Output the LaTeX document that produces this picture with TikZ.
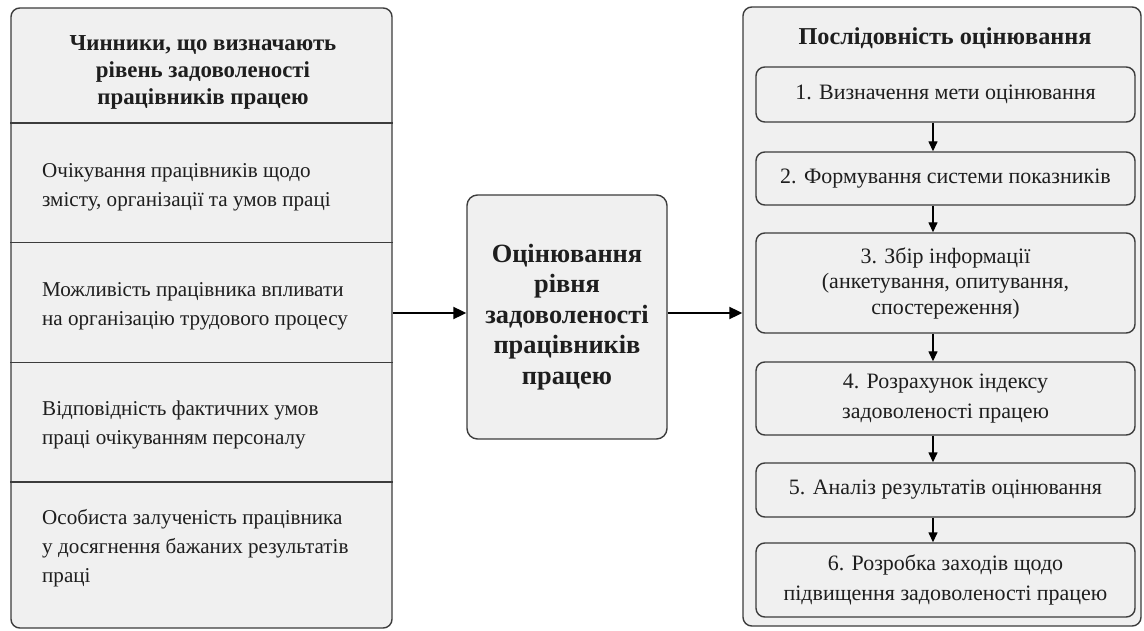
\documentclass[tikz,border=0pt]{standalone}
\usepackage{fontspec}
\setmainfont{Liberation Serif}
\usetikzlibrary{positioning,arrows.meta}
\definecolor{boxfill}{RGB}{240,240,240}
\definecolor{boxline}{RGB}{60,60,60}
\definecolor{txt}{RGB}{30,30,30}
\tikzset{
	panelnode/.style={rectangle, rounded corners=5pt, draw=boxline, fill=boxfill, thick},
	midnode/.style={rectangle, rounded corners=6pt, draw=boxline, fill=boxfill, thick, minimum width=4cm, minimum height=4.88cm, align=center, font=\fontsize{15}{17.4}\selectfont\bfseries},
	stepnode/.style={rectangle, rounded corners=5pt, draw=boxline, fill=boxfill, thick, minimum width=7.58cm, align=center, font=\fontsize{12.5}{17}\selectfont},
	rowtext/.style={anchor=west, align=left, font=\fontsize{12}{16.5}\selectfont},
	headtext/.style={align=center, font=\fontsize{13}{15.6}\selectfont\bfseries}
}
\begin{document}
\begin{tikzpicture}[>={Triangle[length=2.6mm,width=2.4mm]}, text=txt]
		\useasboundingbox (0,0) rectangle (22.88,-12.62);
		% left panel
		\node[panelnode, minimum width=7.62cm, minimum height=12.40cm] at (4.03,-6.36) (left) {};
		\node[headtext] at (4.06,-1.45) (lhead) {Чинники, що визначають\\рівень задоволеності\\працівників працею};
		\coordinate (d1) at (0,-2.46);
		\coordinate (d2) at (0,-4.85);
		\coordinate (d3) at (0,-7.25);
		\coordinate (d4) at (0,-9.64);
		\foreach \d in {d1,d2,d3,d4}
			\draw[thick, draw=boxline] (left.west |- \d) -- (left.east |- \d);
		\node[rowtext] at (0.72,-3.74) (f1) {Очікування працівників щодо\\змісту, організації та умов праці};
		\node[rowtext] at (0.72,-6.13) (f2) {Можливість працівника впливати\\на організацію трудового процесу};
		\node[rowtext] at (0.72,-8.50) (f3) {Відповідність фактичних умов\\праці очікуванням персоналу};
		\node[rowtext] at (0.72,-10.97) (f4) {Особиста залученість працівника\\у досягнення бажаних результатів\\праці};
		
		% middle
		\node[midnode] at (11.34,-6.34) (mid) {Оцінювання\\рівня\\задоволеності\\працівників\\працею};
		
		% right panel
		\node[panelnode, minimum width=7.96cm, minimum height=12.38cm] at (18.84,-6.33) (right) {};
		\node[headtext, font=\fontsize{13.8}{16}\selectfont\bfseries] at (18.90,-0.76) (rhead) {Послідовність оцінювання};
		\node[stepnode, minimum height=1.10cm] at (18.91,-1.89) (s1) {1. Визначення мети оцінювання};
		\node[stepnode, minimum height=1.06cm] at (18.91,-3.57) (s2) {2. Формування системи показників};
		\node[stepnode, minimum height=2.00cm, font=\fontsize{12.5}{14.5}\selectfont] at (18.91,-5.66) (s3) {3. Збір інформації\\(анкетування, опитування,\\спостереження)};
		\node[stepnode, minimum height=1.46cm] at (18.91,-7.97) (s4) {4. Розрахунок індексу\\задоволеності працею};
		\node[stepnode, minimum height=1.08cm] at (18.91,-9.80) (s5) {5. Аналіз результатів оцінювання};
		\node[stepnode, minimum height=1.48cm] at (18.91,-11.60) (s6) {6. Розробка заходів щодо\\підвищення задоволеності працею};
		\coordinate (ax) at (18.66,0);
		\foreach \a/\b in {s1/s2,s2/s3,s3/s4,s4/s5,s5/s6}
			\draw[->, thick, >={Triangle[length=2mm,width=1.8mm]}] (\a.south -| ax) -- (\b.north -| ax);
		
		\coordinate (lvl) at (0,-6.26);
		\draw[->, very thick] (left.east |- lvl) -- (mid.west |- lvl);
		\draw[->, very thick] (mid.east |- lvl) -- (right.west |- lvl);
	\end{tikzpicture}
\end{document}
